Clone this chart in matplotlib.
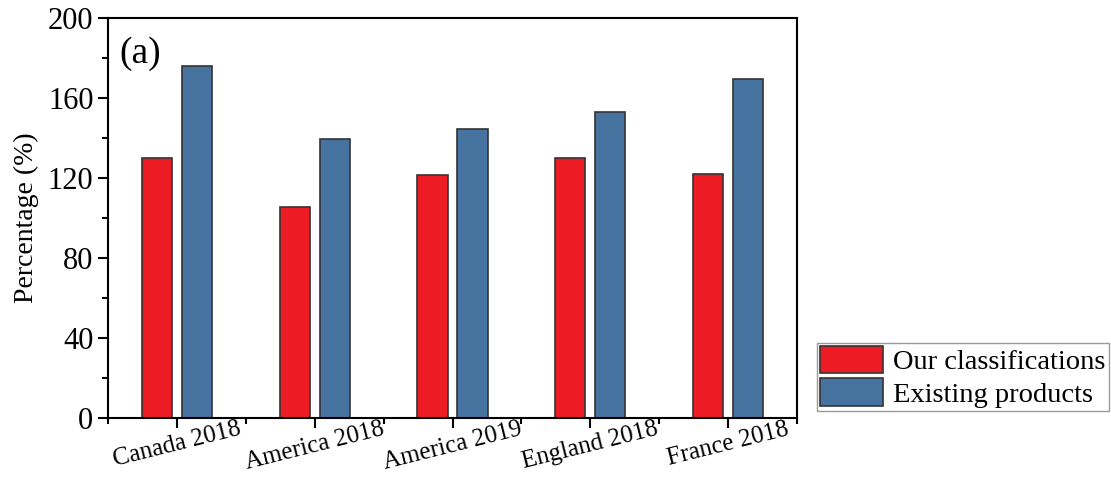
import numpy as np
import matplotlib.pyplot as plt
from matplotlib.ticker import MultipleLocator

plt.rcParams['font.family'] = ['Liberation Serif', 'DejaVu Serif']

# data
regions = ['Canada 2018', 'America 2018', 'America 2019', 'England 2018', 'France 2018']
ours = [130, 105.5, 121.5, 130, 122]
existing = [176, 139.5, 144.5, 153, 169.5]

x = np.arange(len(regions))
w = 0.22

fig = plt.figure(figsize=(11.11, 4.79), dpi=100)
ax = fig.add_axes([108/1111, 61/479, 689/1111, 400/479])

ax.bar(x - 0.145, ours, w, color='#ED1C24', edgecolor='#333333', linewidth=1.2,
       label='Our classifications')
ax.bar(x + 0.145, existing, w, color='#4673A0', edgecolor='#333333', linewidth=1.2,
       label='Existing products')

ax.set_xlim(-0.5, 4.5)
ax.set_ylim(0, 200)
ax.yaxis.set_major_locator(MultipleLocator(40))
ax.yaxis.set_minor_locator(MultipleLocator(20))
ax.set_xticks(x)
ax.set_xticks(np.arange(-0.5, 5, 1), minor=True)
ax.set_xticklabels(regions, rotation=14, ha='center', fontsize=18)
ax.tick_params(axis='y', labelsize=22)
ax.tick_params(which='major', direction='out', length=7, width=1.5)
ax.tick_params(which='minor', direction='out', length=4, width=1.5)
ax.tick_params(axis='x', which='major', pad=-7)
for s in ax.spines.values():
    s.set_linewidth(1.5)

ax.set_ylabel('Percentage (%)', fontsize=20, labelpad=6)
ax.text(0.016, 0.955, '(a)', transform=ax.transAxes, fontsize=27, va='top')

fig.legend(loc='lower left', bbox_to_anchor=(817/1111, (479-411)/479), fontsize=20.5,
           fancybox=False, edgecolor='#999999', handlelength=2.2, handleheight=1.1,
           handletextpad=0.35, borderpad=0.12, borderaxespad=0, labelspacing=0.1,
           framealpha=1)

plt.savefig('out.png', dpi=100)
